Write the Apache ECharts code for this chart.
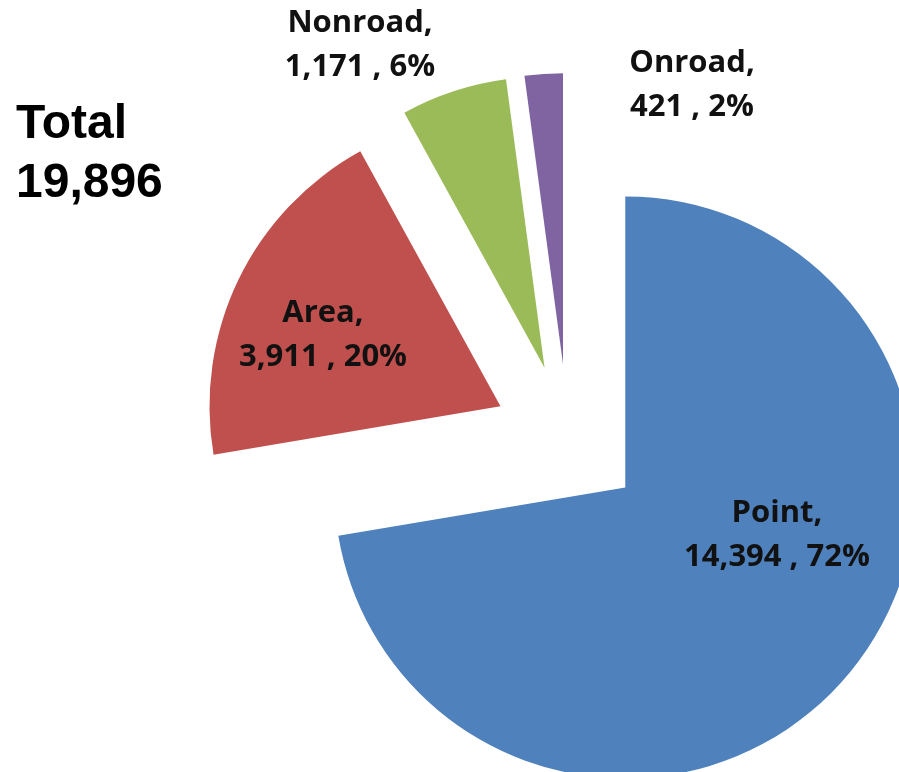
<!DOCTYPE html>
<html>
<head>
    <meta charset="utf-8">
    <title>Emissions by Source</title>
    <script src="https://cdn.jsdelivr.net/npm/echarts@6/dist/echarts.min.js"></script>
    <style>
        html, body { margin: 0; padding: 0; background: #fff; }
    </style>
</head>
<body>
    <div id="main" style="width: 899px;height:772px;"></div>
    <script type="text/javascript">
        // data
        var categories = ['Point', 'Area', 'Nonroad', 'Onroad'];
        var values = [14394, 3911, 1171, 421];
        var colors = ['#4F81BD', '#C0504D', '#9BBB59', '#8064A2'];
        var totalValue = 19896;

        // centre of each label block
        var labelPos = [[777, 535], [323, 335], [360, 45], [692, 85]];

        function fmt(n) {
            return String(n).replace(/\B(?=(\d{3})+(?!\d))/g, ',');
        }

        var sum = 0;
        for (var k = 0; k < values.length; k++) sum += values[k];

        var pieData = [];
        var labels = [];
        for (var i = 0; i < categories.length; i++) {
            pieData.push({
                name: categories[i],
                value: values[i],
                selected: true,
                itemStyle: { color: colors[i] }
            });
            // slice labels as text, built from the same arrays
            labels.push({
                type: 'text',
                x: labelPos[i][0],
                y: labelPos[i][1],
                z: 100,
                silent: true,
                style: {
                    text: categories[i] + ',\n' + fmt(values[i]) + ' , ' + Math.round(values[i] / sum * 100) + '%',
                    align: 'center',
                    verticalAlign: 'middle',
                    fontFamily: 'Open Sans',
                    fontWeight: 'bold',
                    fontSize: 31,
                    lineHeight: 44,
                    fill: '#111'
                }
            });
        }

        var myChart = echarts.init(document.getElementById('main'));

        myChart.setOption({
            animation: false,
            title: {
                text: 'Total\n' + fmt(totalValue),
                left: 16,
                top: 95,
                padding: 0,
                textStyle: {
                    fontFamily: 'Liberation Sans',
                    fontWeight: 'bold',
                    fontSize: 48,
                    lineHeight: 59,
                    color: '#000'
                }
            },
            graphic: labels,
            series: [
                {
                    type: 'pie',
                    center: [568, 439],
                    radius: [0, 291],
                    startAngle: 90,
                    clockwise: true,
                    selectedMode: 'multiple',
                    selectedOffset: 75,
                    emphasis: { disabled: true },
                    label: { show: false },
                    labelLine: { show: false },
                    data: pieData
                }
            ]
        });
    </script>
</body>
</html>
